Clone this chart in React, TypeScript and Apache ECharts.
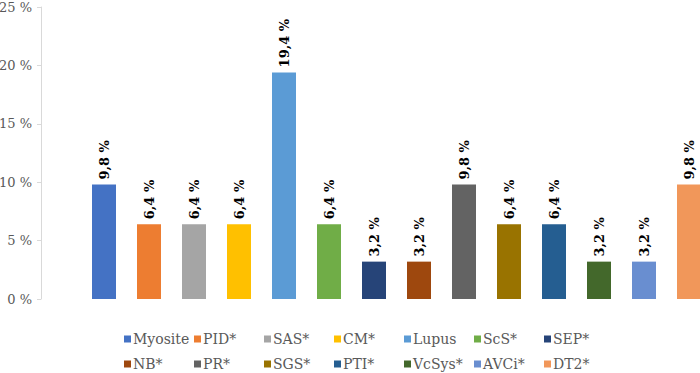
import React, { useEffect, useRef } from "react";
import * as echarts from "echarts";

const names = ["Myosite", "PID*", "SAS*", "CM*", "Lupus", "ScS*", "SEP*", "NB*", "PR*", "SGS*", "PTI*", "VcSys*", "AVCi*", "DT2*"];
const values = [9.8, 6.4, 6.4, 6.4, 19.4, 6.4, 3.2, 3.2, 9.8, 6.4, 6.4, 3.2, 3.2, 9.8];
const colors = ["#4472C4", "#ED7D31", "#A5A5A5", "#FFC000", "#5B9BD5", "#70AD47", "#264478", "#9E480E", "#636363", "#997300", "#255E91", "#43682B", "#698ED0", "#F1975A"];
const yTicks = { min: 0, max: 25, interval: 5 };

const FONT = "DejaVu Serif";

export default function App() {
  const ref = useRef<HTMLDivElement>(null);
  useEffect(() => {
    if (!ref.current) return;
    const chart = echarts.init(ref.current, undefined, { renderer: "svg" });
    const legendBase = {
      left: 124,
      padding: 0,
      itemWidth: 7,
      itemHeight: 7,
      icon: "rect",
      itemGap: 0,
      selectedMode: false,
      formatter: (n: string) => "{a|" + n + "}",
      textStyle: {
        fontFamily: FONT,
        fontSize: 14,
        color: "#595959",
        rich: { a: { fontFamily: FONT, fontSize: 14, color: "#595959", width: 61, lineHeight: 16, padding: [0, 0, 0, -3] } },
      },
    };
    chart.setOption({
      animation: false,
      textStyle: { fontFamily: FONT },
      grid: { left: 41, top: 7, bottom: 74, width: 711, outerBoundsMode: "none", containLabel: false },
      legend: [
        { ...legendBase, top: 332, data: names.slice(0, 7) },
        { ...legendBase, top: 357, data: names.slice(7) },
      ],
      xAxis: {
        type: "category",
        data: [""],
        axisLine: { show: false },
        axisTick: { show: false },
        axisLabel: { show: false },
      },
      yAxis: {
        type: "value",
        min: yTicks.min,
        max: yTicks.max,
        interval: yTicks.interval,
        splitLine: { show: false },
        axisLine: { show: true, lineStyle: { color: "#D9D9D9" } },
        axisTick: { show: true, length: 4, lineStyle: { color: "#D9D9D9" } },
        axisLabel: {
          formatter: (v: number) => v + " %",
          fontFamily: FONT,
          fontSize: 13,
          color: "#595959",
          margin: 9,
        },
      },
      series: names.map((n, i) => ({
        name: n,
        type: "bar",
        data: [values[i]],
        barWidth: 24,
        barGap: "87.5%",
        itemStyle: { color: colors[i] },
        label: {
          show: true,
          position: "top",
          rotate: 90,
          align: "left",
          verticalAlign: "middle",
          distance: 5,
          fontFamily: FONT,
          fontWeight: "bold",
          fontSize: 13,
          color: "#000",
          formatter: (p: any) => p.value.toFixed(1).replace(".", ",") + " %",
        },
      })),
    });
    return () => chart.dispose();
  }, []);
  return <div ref={ref} style={{ width: 700, height: 373, position: "absolute", left: 0, top: 0 }} />;
}
